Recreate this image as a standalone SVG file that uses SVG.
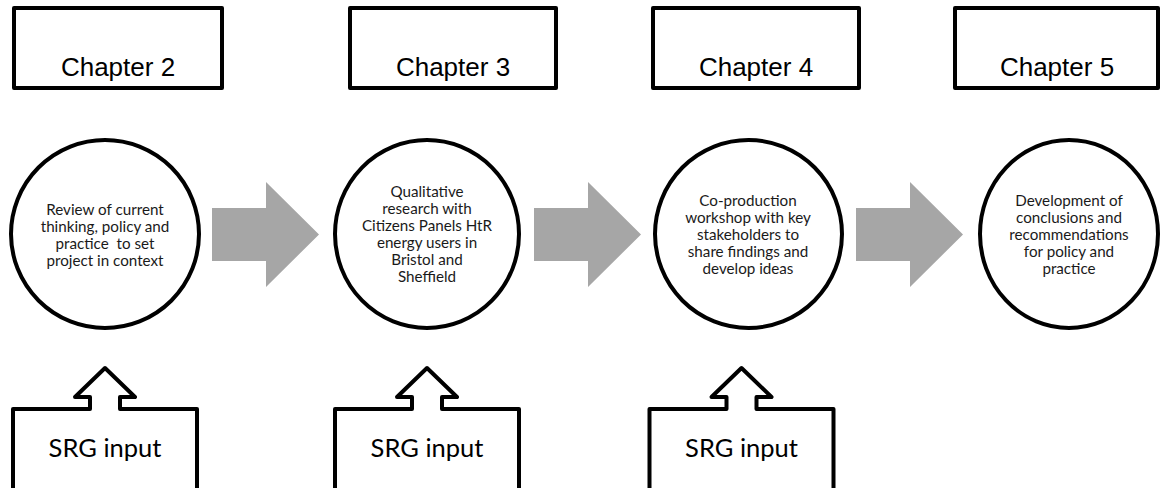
<svg xmlns="http://www.w3.org/2000/svg" width="1161" height="488" viewBox="0 0 1161 488">
<style>
.box{fill:#fff;stroke:#000;stroke-width:4;stroke-linejoin:round}
.ch{font-family:"Liberation Sans",Arial,sans-serif;font-size:26px;fill:#000;text-anchor:middle}
.ct{font-family:Lato,"Open Sans",sans-serif;font-size:15.2px;fill:#1a1a1a;text-anchor:middle}
.srg{font-family:Lato,"Open Sans",sans-serif;font-size:25.5px;fill:#000;text-anchor:middle}
.arr{fill:#a6a6a6}
</style>
<defs>
<path id="callout" d="M-92,500 V409 H-15 V397 H-30 L0,368 L30,397 H15 V409 H92 V500 Z"/>
<polygon id="garrow" points="0,208 54,208 54,182 107,234.5 54,287 54,261 0,261"/>
</defs>
<g id="connectors">
<use href="#garrow" class="arr" x="212"/>
<use href="#garrow" class="arr" x="534"/>
<use href="#garrow" class="arr" x="856"/>
</g>
<g id="chapter2"><rect class="box" x="14" y="8" width="208" height="80"/><text class="ch" x="118" y="76">Chapter 2</text></g>
<g id="chapter3"><rect class="box" x="350" y="8" width="206" height="80"/><text class="ch" x="453" y="76">Chapter 3</text></g>
<g id="chapter4"><rect class="box" x="653" y="8" width="206" height="80"/><text class="ch" x="756" y="76">Chapter 4</text></g>
<g id="chapter5"><rect class="box" x="955" y="8" width="203" height="80"/><text class="ch" x="1057" y="76">Chapter 5</text></g>
<g id="step1"><ellipse class="box" cx="105" cy="234" rx="94" ry="94"/>
<text class="ct" xml:space="preserve"><tspan x="105" y="214.5">Review of current</tspan><tspan x="105" y="231.5">thinking, policy and</tspan><tspan x="105" y="248.5">practice  to set</tspan><tspan x="105" y="265.5">project in context</tspan></text></g>
<g id="step2"><ellipse class="box" cx="427" cy="234" rx="92" ry="94"/>
<text class="ct"><tspan x="427" y="197">Qualitative</tspan><tspan x="427" y="214">research with</tspan><tspan x="427" y="231">Citizens Panels HtR</tspan><tspan x="427" y="248">energy users in</tspan><tspan x="427" y="265">Bristol and</tspan><tspan x="427" y="282">Sheffield</tspan></text></g>
<g id="step3"><ellipse class="box" cx="748.5" cy="234" rx="93.5" ry="94"/>
<text class="ct"><tspan x="748" y="205.5">Co-production</tspan><tspan x="748" y="222.5">workshop with key</tspan><tspan x="748" y="239.5">stakeholders to</tspan><tspan x="748" y="256.5">share findings and</tspan><tspan x="748" y="273.5">develop ideas</tspan></text></g>
<g id="step4"><ellipse class="box" cx="1069" cy="234" rx="89" ry="94"/>
<text class="ct"><tspan x="1069" y="205.5">Development of</tspan><tspan x="1069" y="222.5">conclusions and</tspan><tspan x="1069" y="239.5">recommendations</tspan><tspan x="1069" y="256.5">for policy and</tspan><tspan x="1069" y="273.5">practice</tspan></text></g>
<g id="srg1"><use href="#callout" class="box" x="105"/><text class="srg" x="105" y="457">SRG input</text></g>
<g id="srg2"><use href="#callout" class="box" x="427"/><text class="srg" x="427" y="457">SRG input</text></g>
<g id="srg3"><use href="#callout" class="box" x="741.5"/><text class="srg" x="741.5" y="457">SRG input</text></g>
</svg>
